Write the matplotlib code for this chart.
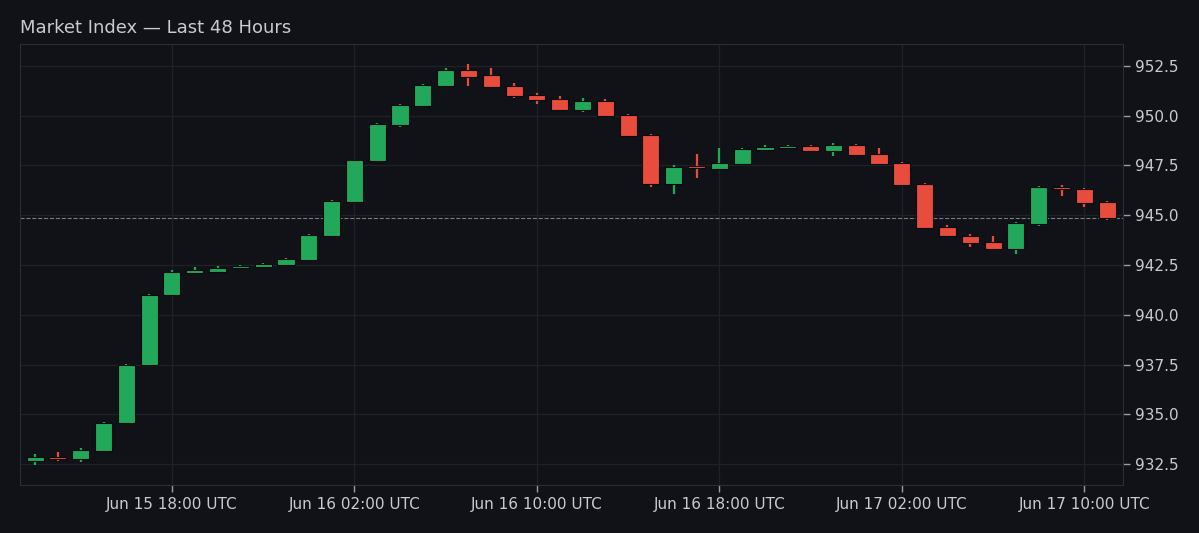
import matplotlib
matplotlib.use('Agg')
import matplotlib.pyplot as plt
import matplotlib.dates as mdates
import pandas as pd
import numpy as np

# hourly candles, Jun 15 12:00 -> Jun 17 11:00 UTC
times = pd.date_range('2024-06-15 12:00', periods=48, freq='h')

opens = [932.65, 932.85, 932.75, 933.15, 934.55, 937.5, 941.0, 942.1, 942.15, 942.35,
         942.4, 942.5, 942.75, 943.95, 945.65, 947.7, 949.55, 950.5, 951.5, 952.3,
         952.05, 951.5, 951.05, 950.85, 950.3, 950.75, 950.05, 949.05, 946.55, 947.4,
         947.3, 947.55, 948.3, 948.4, 948.5, 948.25, 948.55, 948.1, 947.6, 946.55,
         944.4, 943.98, 943.65, 943.3, 944.55, 946.4, 946.3, 945.65]
closes = [932.85, 932.75, 933.2, 934.55, 937.5, 941.0, 942.15, 942.25, 942.35, 942.45,
          942.55, 942.8, 944.0, 945.7, 947.75, 949.6, 950.55, 951.55, 952.3, 951.95,
          951.45, 951.0, 950.8, 950.3, 950.75, 950.0, 949.0, 946.55, 947.4, 947.35,
          947.6, 948.35, 948.45, 948.5, 948.25, 948.55, 948.05, 947.55, 946.5, 944.35,
          943.95, 943.6, 943.3, 944.6, 946.4, 946.3, 945.6, 944.85]
highs = [933.0, 933.1, 933.3, 934.6, 937.55, 941.05, 942.27, 942.4, 942.45, 942.5,
         942.6, 942.85, 944.05, 945.75, 947.8, 949.65, 950.6, 951.6, 952.4, 952.6,
         952.4, 951.65, 951.15, 951.0, 950.9, 950.85, 950.1, 949.1, 947.5, 948.1,
         948.4, 948.4, 948.55, 948.55, 948.55, 948.65, 948.6, 948.4, 947.65, 946.6,
         944.5, 944.05, 943.95, 944.65, 946.45, 946.5, 946.35, 945.7]
lows = [932.45, 932.65, 932.6, 933.1, 934.5, 937.45, 940.95, 942.05, 942.1, 942.3,
        942.35, 942.45, 942.7, 943.9, 945.6, 947.65, 949.45, 950.45, 951.45, 951.5,
        951.4, 950.9, 950.6, 950.25, 950.2, 949.95, 948.95, 946.4, 946.05, 946.85,
        947.25, 947.5, 948.25, 948.35, 948.2, 948.0, 948.0, 947.5, 946.45, 944.3,
        943.9, 943.4, 943.25, 943.05, 944.45, 945.95, 945.4, 944.75]

bg = '#111217'
up = '#22a85a'
down = '#e84c3d'
txt = '#c9cbd0'
gridc = '#1e2126'

fig = plt.figure(figsize=(11.99, 5.33), dpi=100, facecolor=bg)
ax = fig.add_axes([0.0167, 0.090, 0.92, 0.8274], facecolor=bg)

x = mdates.date2num(times)
w = 0.75 / 24
for i in range(len(x)):
    o, c, h, l = opens[i], closes[i], highs[i], lows[i]
    col = up if c >= o else down
    ax.vlines(x[i], l, h, color=col, linewidth=1.6, zorder=2)
    hgt = max(abs(c - o), 0.1)
    ax.bar(x[i], hgt, bottom=min(o, c), width=w, color=col,
           edgecolor='#0a0b0e', linewidth=0.8, zorder=3)

# last close line
ax.axhline(closes[-1], color='#7a7d84', linestyle='--', linewidth=0.8, zorder=1)

ax.set_xlim(x[0] - 0.66 / 24, x[-1] + 0.7 / 24)
ax.set_ylim(931.45, 953.6)

ax.xaxis.set_major_locator(mdates.HourLocator(byhour=[2, 10, 18]))
ax.xaxis.set_major_formatter(mdates.DateFormatter('%b %d %H:%M UTC'))
ax.set_yticks(np.arange(932.5, 953, 2.5))
ax.yaxis.set_major_formatter(matplotlib.ticker.FormatStrFormatter('%.1f'))
ax.yaxis.tick_right()

ax.grid(True, color=gridc, linewidth=1.0, zorder=0)
ax.set_axisbelow(True)
ax.tick_params(colors=txt, labelsize=11, length=5, width=1)
ax.tick_params(axis='x', color='#9a9da3')
ax.tick_params(axis='y', color='#9a9da3')
for s in ax.spines.values():
    s.set_color('#2a2d33')

ax.set_title('Market Index \u2014 Last 48 Hours', loc='left', color=txt,
             fontsize=13, pad=8, x=0.0)

fig.savefig('out.png', dpi=100, facecolor=bg)
